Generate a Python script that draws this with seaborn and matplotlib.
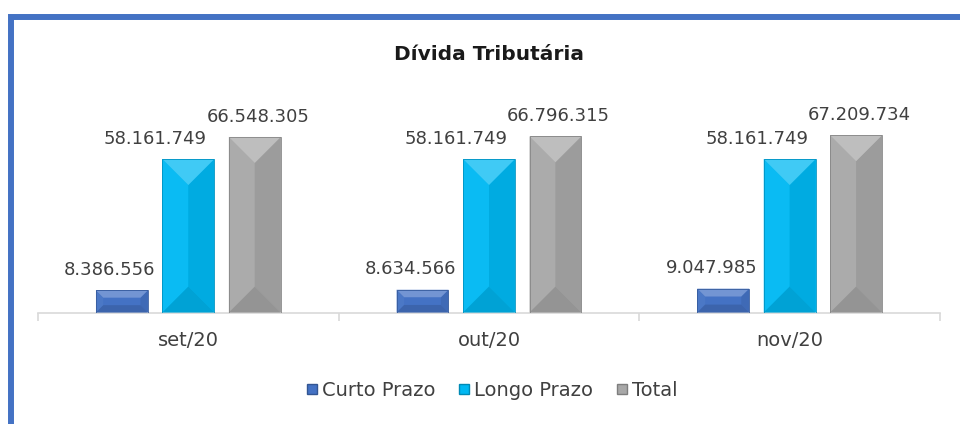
import numpy as np
import pandas as pd
import seaborn as sns
import matplotlib.pyplot as plt
from matplotlib.patches import Polygon, Rectangle
from matplotlib.colors import to_rgb
from matplotlib.lines import Line2D

# dados do grafico
meses = ["set/20", "out/20", "nov/20"]
series = ["Curto Prazo", "Longo Prazo", "Total"]
curto = [8386556, 8634566, 9047985]
longo = [58161749, 58161749, 58161749]
total = [66548305, 66796315, 67209734]
cores = ["#4472C4", "#00B8F2", "#A8A8A8"]

df = pd.DataFrame({
    "mes": meses * 3,
    "serie": [s for s in series for _ in meses],
    "valor": curto + longo + total,
})

sns.set_style("white")
plt.rcParams["font.family"] = ["DejaVu Sans"]

fig = plt.figure(figsize=(9.6, 4.24), dpi=100)
ax = fig.add_axes([38 / 960, (424 - 312.5) / 424, 902 / 960, 211 / 424])

sns.barplot(data=df, x="mes", y="valor", hue="serie", order=meses,
            hue_order=series, palette=cores, width=0.663, gap=0.22,
            saturation=1, legend=False, ax=ax)

ax.set_xlim(-0.5, 2.5)
ax.set_ylim(0, 80e6)
ax.set_xlabel("")
ax.set_ylabel("")
ax.set_yticks([])
for s in ["left", "top", "right"]:
    ax.spines[s].set_visible(False)
ax.spines["bottom"].set_color("#D9D9D9")
ax.spines["bottom"].set_linewidth(1.2)
ax.set_xticks([-0.5, 0.5, 1.5, 2.5], minor=True)
ax.tick_params(axis="x", which="minor", bottom=True, length=5.5,
               color="#D9D9D9", width=1.2)
ax.tick_params(axis="x", which="major", bottom=True, length=0, pad=13,
               labelsize=14, labelcolor="#404040")

ax.set_title("Dívida Tributária", fontsize=14.5, fontweight="bold",
             color="#1a1a1a", pad=30)

# chanfro nas barras (efeito bisel do Excel)
fig.canvas.draw()
inv = fig.transFigure.inverted()


def mix(c, f):
    c = np.array(to_rgb(c))
    if f >= 0:
        return tuple(c + (1 - c) * f)
    return tuple(c * (1 + f))


desloc = [-12, -33, 3]
for k, cont in enumerate(ax.containers):
    cor = cores[k]
    for bar, v in zip(cont.patches, cont.datavalues):
        bar.set_edgecolor("none")
        bb = bar.get_window_extent()
        x0, x1, y0, y1 = bb.x0, bb.x1, bb.y0, bb.y1
        w, h = x1 - x0, y1 - y0
        d = min(w / 2, h * 0.33)
        faces = [
            ([(x0, y0), (x0, y1), (x0 + d, y1 - d), (x0 + d, y0 + d)], 0.04),
            ([(x1, y0), (x1, y1), (x1 - d, y1 - d), (x1 - d, y0 + d)], -0.07),
            ([(x0, y1), (x1, y1), (x1 - d, y1 - d), (x0 + d, y1 - d)], 0.25),
            ([(x0, y0), (x1, y0), (x1 - d, y0 + d), (x0 + d, y0 + d)], -0.12),
        ]
        for pts, f in faces:
            p = Polygon([inv.transform(pt) for pt in pts], closed=True,
                        facecolor=mix(cor, f), edgecolor="none",
                        transform=fig.transFigure, zorder=3)
            ax.add_patch(p)
        ax.add_patch(Rectangle(inv.transform((x0, y0)), w / 960, h / 424,
                               fill=False, edgecolor=mix(cor, -0.2), lw=0.6,
                               transform=fig.transFigure, zorder=4))
        rot = f"{int(v):,}".replace(",", ".")
        ax.annotate(rot, (bar.get_x() + bar.get_width() / 2, v),
                    xytext=(desloc[k] * 0.72, 11), textcoords="offset points",
                    ha="center", va="baseline", fontsize=13, color="#404040")

# legenda
handles = [Line2D([], [], marker="s", linestyle="none", markersize=7,
                  markerfacecolor=c, markeredgecolor=mix(c, -0.25))
           for c in cores]
fig.legend(handles, series, loc="center", bbox_to_anchor=(492 / 960, 1 - 390 / 424),
           ncol=3, frameon=False, fontsize=14, handlelength=0.6,
           handletextpad=0.2, columnspacing=1.2, labelcolor="#404040")

# moldura azul
fig.add_artist(Rectangle((11 / 960, -0.2), 1.2, (424 - 16.5) / 424 + 0.2,
                         fill=False, edgecolor="#4472C4", lw=4.3,
                         transform=fig.transFigure))

fig.savefig("out.png", dpi=100)
